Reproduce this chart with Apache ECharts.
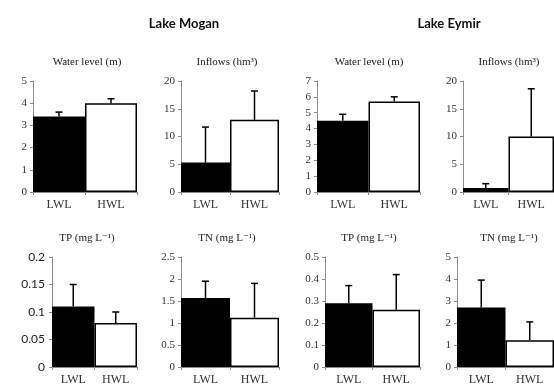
<!DOCTYPE html>
<html>
<head>
<meta charset="utf-8">
<script src="https://cdn.jsdelivr.net/npm/echarts@6/dist/echarts.min.js"></script>
<style>html,body{margin:0;padding:0;background:#fff}#c{width:554px;height:386px}</style>
</head>
<body>
<div id="c"></div>
<script>
// ---- data ----
const categories = ['LWL', 'HWL'];
const lakeTitles = ['Lake Mogan', 'Lake Eymir'];
const panelTitles = ['Water level (m)', 'Inflows (hm³)', 'Water level (m)', 'Inflows (hm³)',
                     'TP (mg L⁻¹)', 'TN (mg L⁻¹)', 'TP (mg L⁻¹)', 'TN (mg L⁻¹)'];
const mogWaterLevel = [3.4, 4.0];   const mogWaterLevelUp = [3.6, 4.2];
const mogInflows = [5.3, 13.0];     const mogInflowsUp = [11.7, 18.2];
const eymWaterLevel = [4.5, 5.7];   const eymWaterLevelUp = [4.9, 6.0];
const eymInflows = [0.7, 10.0];     const eymInflowsUp = [1.5, 18.6];
const mogTP = [0.11, 0.08];         const mogTPUp = [0.15, 0.10];
const mogTN = [1.57, 1.12];         const mogTNUp = [1.95, 1.90];
const eymTP = [0.29, 0.26];         const eymTPUp = [0.37, 0.42];
const eymTN = [2.7, 1.22];          const eymTNUp = [3.95, 2.05];
const yMax = [5, 20, 7, 20, 0.2, 2.5, 0.5, 5];
const yInterval = [1, 5, 1, 5, 0.05, 0.5, 0.1, 1];

const values = [mogWaterLevel, mogInflows, eymWaterLevel, eymInflows, mogTP, mogTN, eymTP, eymTN];
const uppers = [mogWaterLevelUp, mogInflowsUp, eymWaterLevelUp, eymInflowsUp, mogTPUp, mogTNUp, eymTPUp, eymTNUp];

// ---- layout ----
const grids = [
  {left: 33, top: 81, width: 104, height: 111},
  {left: 181, top: 81, width: 98, height: 111},
  {left: 317, top: 81, width: 103, height: 111},
  {left: 463, top: 81, width: 101, height: 111},
  {left: 52, top: 257, width: 85, height: 111},
  {left: 181, top: 257, width: 98, height: 111},
  {left: 325, top: 257, width: 95, height: 111},
  {left: 457, top: 257, width: 105, height: 111}
];
const titleCenters = [82, 222, 364, 504, 82, 222, 364, 504];
const serif = '"Liberation Serif", "DejaVu Serif", serif';
const axisColor = '#8c8c8c';
const labelColor = '#333';

const titles = [
  {text: lakeTitles[0], left: 179, top: 12, textAlign: 'center',
   textStyle: {fontFamily: 'Lato', fontWeight: 'bold', fontSize: 13, color: '#111'}},
  {text: lakeTitles[1], left: 444, top: 12, textAlign: 'center',
   textStyle: {fontFamily: 'Lato', fontWeight: 'bold', fontSize: 13, color: '#111'}}
];
panelTitles.forEach((t, i) => {
  titles.push({text: t, left: titleCenters[i], top: i < 4 ? 52 : 228, textAlign: 'center',
    textStyle: {fontFamily: serif, fontWeight: 'normal', fontSize: 11, color: '#222'}});
});

const xAxes = [], yAxes = [], series = [];
grids.forEach((g, i) => {
  xAxes.push({
    type: 'category', gridIndex: i, data: categories, boundaryGap: true,
    axisLine: {lineStyle: {color: axisColor, width: 1}},
    axisTick: {show: true, length: 3, lineStyle: {color: axisColor}},
    axisLabel: {fontFamily: serif, fontSize: 12, color: labelColor, margin: 7}
  });
  yAxes.push({
    type: 'value', gridIndex: i, min: 0, max: yMax[i], interval: yInterval[i],
    splitLine: {show: false},
    axisLine: {show: true, lineStyle: {color: axisColor, width: 1}},
    axisTick: {show: true, length: 3, lineStyle: {color: axisColor}},
    axisLabel: i === 4
      ? {fontFamily: 'Lato', fontSize: 12, color: '#222', margin: 7}
      : {fontFamily: serif, fontSize: 11, color: labelColor, margin: 6}
  });
  series.push({
    type: 'bar', xAxisIndex: i, yAxisIndex: i, barWidth: '100%', barCategoryGap: '0%',
    data: values[i].map((v, k) => ({
      value: v,
      itemStyle: {color: k === 0 ? '#000' : '#fff', borderColor: '#000', borderWidth: 1.5}
    })),
    animation: false, z: 2
  });
  series.push({
    type: 'custom', xAxisIndex: i, yAxisIndex: i, z: 3, animation: false,
    data: values[i].map((v, k) => [k, v, uppers[i][k]]),
    encode: {x: 0, y: [1, 2]},
    renderItem: function (params, api) {
      const x = api.value(0), v = api.value(1), up = api.value(2);
      const p0 = api.coord([x, v]);
      const p1 = api.coord([x, up]);
      const st = {stroke: '#000', lineWidth: 1.5};
      return {type: 'group', children: [
        {type: 'line', shape: {x1: p0[0], y1: p0[1], x2: p1[0], y2: p1[1]}, style: st},
        {type: 'line', shape: {x1: p1[0] - 3.5, y1: p1[1], x2: p1[0] + 3.5, y2: p1[1]}, style: st}
      ]};
    }
  });
});

const chart = echarts.init(document.getElementById('c'), null, {renderer: 'canvas'});
chart.setOption({
  backgroundColor: '#fff',
  animation: false,
  title: titles,
  grid: grids,
  xAxis: xAxes,
  yAxis: yAxes,
  series: series
});
</script>
</body>
</html>
